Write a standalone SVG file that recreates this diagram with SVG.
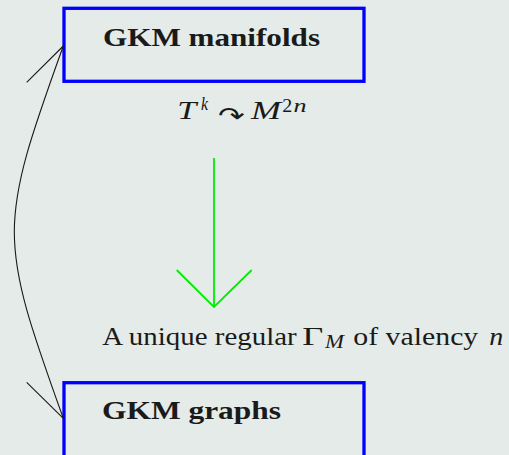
<svg xmlns="http://www.w3.org/2000/svg" width="509" height="455" viewBox="0 0 509 455">
<style>
.box{fill:none;stroke:#0000ff;stroke-width:3.3}
.title{font-family:"Liberation Serif",serif;font-weight:bold;font-size:26px;fill:#1a1a1a}
.rm{font-family:"Liberation Serif",serif;font-size:26px;fill:#1a1a1a}
.it{font-family:"Liberation Serif",serif;font-style:italic;font-size:26px;fill:#1a1a1a}
.sup{font-family:"Liberation Serif",serif;font-size:18px;fill:#1a1a1a}
.supit{font-family:"Liberation Serif",serif;font-style:italic;font-size:18px;fill:#1a1a1a}
.conn{fill:none;stroke:#1a1a1a;stroke-width:1.1}
.green{fill:none;stroke:#00ee00;stroke-width:1.8}
</style>
<rect width="509" height="455" fill="#e4ebe8"/>
<g id="gkm-manifolds">
<rect class="box" x="64" y="8.3" width="300" height="73"/>
<text class="title" x="103" y="46" textLength="217" lengthAdjust="spacingAndGlyphs">GKM manifolds</text>
</g>
<g id="action-label">
<text class="it" x="177.3" y="119.3" textLength="19" lengthAdjust="spacingAndGlyphs">T</text>
<text class="supit" x="201" y="110" textLength="7" lengthAdjust="spacingAndGlyphs">k</text>
<text font-family="DejaVu Sans, sans-serif" font-size="24" fill="#1a1a1a" x="218" y="124" textLength="27" lengthAdjust="spacingAndGlyphs">↷</text>
<text class="it" x="251" y="119.3" textLength="30" lengthAdjust="spacingAndGlyphs">M</text>
<text class="sup" x="282.3" y="111.7" textLength="10" lengthAdjust="spacingAndGlyphs">2</text>
<text class="supit" x="293.5" y="111.7" textLength="13" lengthAdjust="spacingAndGlyphs">n</text>
</g>
<g id="graph-label">
<text class="rm" x="102.3" y="345" textLength="194.4" lengthAdjust="spacingAndGlyphs">A unique regular</text>
<text class="rm" x="302.3" y="345" textLength="21" lengthAdjust="spacingAndGlyphs">Γ</text>
<text class="supit" x="325" y="348.3" textLength="19" lengthAdjust="spacingAndGlyphs">M</text>
<text class="rm" x="353.3" y="345" textLength="125" lengthAdjust="spacingAndGlyphs">of valency</text>
<text class="it" x="489.3" y="345" textLength="14" lengthAdjust="spacingAndGlyphs">n</text>
</g>
<g id="gkm-graphs">
<rect class="box" x="64" y="382.7" width="300" height="90"/>
<text class="title" x="102" y="419" textLength="179" lengthAdjust="spacingAndGlyphs">GKM graphs</text>
</g>
<g id="connectors">
<path class="green" d="M214 158 V307 M176.7 270 L214 307 L251.7 270"/>
<path class="conn" d="M63.3 46 C-2 227 -2 237 63.3 418.3"/>
<path class="conn" d="M26.7 82.3 L63.3 46"/>
<path class="conn" d="M26.7 382.3 L63.3 418.3"/>
</g>
</svg>
